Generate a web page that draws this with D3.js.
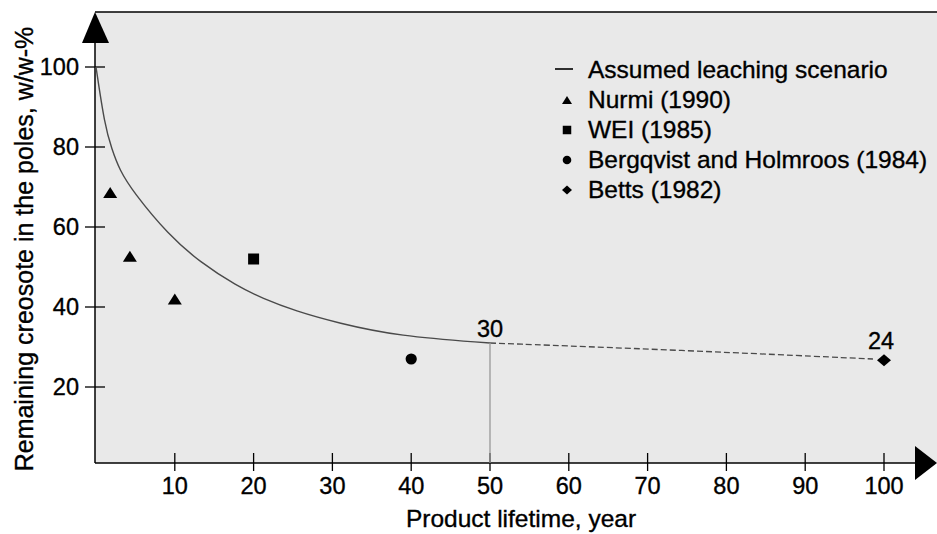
<!DOCTYPE html>
<html>
<head>
<meta charset="utf-8">
<script src="https://cdn.jsdelivr.net/npm/d3@7"></script>
<style>
  body { margin: 0; background: #fff; }
  svg { display: block; font-family: "Liberation Sans", Arial, sans-serif; }
  svg text { fill: #000; stroke: #000; stroke-width: 0.35px; }
</style>
</head>
<body>
<div id="chart"></div>
<script>
// leaching curve (solid up to 50 years, dashed after)
var curveYears = [0, 1.1, 2, 3, 4.7, 9.2, 13.2, 17.9, 21.1, 25.3, 30.7, 38.3, 50];
var curveValues = [100, 85.5, 79.5, 74.2, 68.8, 58, 51.2, 45.2, 42.2, 39, 36, 32.7, 31];
var dashYears = [50, 74.3, 98.6];
var dashValues = [31, 29.2, 27];

// measured points
var nurmiYears = [1.8, 4.3, 10];
var nurmiValues = [68.6, 52.7, 42];
var weiYears = [20];
var weiValues = [52];
var bergYears = [40];
var bergValues = [27];
var bettsYears = [100];
var bettsValues = [26.7];

var xTicks = [10, 20, 30, 40, 50, 60, 70, 80, 90, 100];
var yTicks = [20, 40, 60, 80, 100];

var legendLabels = ["Assumed leaching scenario", "Nurmi (1990)", "WEI (1985)",
                    "Bergqvist and Holmroos (1984)", "Betts (1982)"];

var W = 937, H = 534;

var x = d3.scaleLinear().domain([0, 100]).range([96, 884]);
var y = d3.scaleLinear().domain([0, 100]).range([467, 67]);

var plotLeft = 95, plotTop = 12, axisY = y(1);

var svg = d3.select("#chart").append("svg")
    .attr("width", W)
    .attr("height", H);

// plot background
svg.append("rect")
    .attr("x", plotLeft).attr("y", plotTop)
    .attr("width", W - plotLeft).attr("height", axisY - plotTop)
    .attr("fill", "#e9e9e9");

svg.append("line")
    .attr("x1", plotLeft).attr("x2", W)
    .attr("y1", plotTop).attr("y2", plotTop)
    .attr("stroke", "#000").attr("stroke-width", 1.5);

// axes lines + arrows
svg.append("line")
    .attr("x1", plotLeft).attr("x2", plotLeft)
    .attr("y1", plotTop + 20).attr("y2", axisY)
    .attr("stroke", "#000").attr("stroke-width", 1.5);
svg.append("line")
    .attr("x1", plotLeft).attr("x2", W - 22)
    .attr("y1", axisY).attr("y2", axisY)
    .attr("stroke", "#000").attr("stroke-width", 1.5);

svg.append("path")
    .attr("d", "M" + plotLeft + "," + plotTop + " L" + (plotLeft + 14) + "," + (plotTop + 31) + " L" + (plotLeft - 13) + "," + (plotTop + 31) + "Z")
    .attr("fill", "#000");
svg.append("path")
    .attr("d", "M" + W + "," + axisY + " L" + (W - 22) + "," + (axisY - 17) + " L" + (W - 22) + "," + (axisY + 17) + "Z")
    .attr("fill", "#000");

// x ticks
var xt = svg.append("g").attr("class", "x-ticks");
xt.selectAll("line").data(xTicks).enter().append("line")
    .attr("x1", function (d) { return x(d); })
    .attr("x2", function (d) { return x(d); })
    .attr("y1", axisY - 10).attr("y2", axisY + 8)
    .attr("stroke", "#000").attr("stroke-width", 1.3);
xt.selectAll("text").data(xTicks).enter().append("text")
    .attr("x", function (d) { return x(d); })
    .attr("y", 494)
    .attr("text-anchor", "middle")
    .style("font-size", "23.5px")
    .text(function (d) { return d; });

// y ticks
var yt = svg.append("g").attr("class", "y-ticks");
yt.selectAll("line").data(yTicks).enter().append("line")
    .attr("x1", plotLeft - 10).attr("x2", plotLeft + 10)
    .attr("y1", function (d) { return y(d); })
    .attr("y2", function (d) { return y(d); })
    .attr("stroke", "#000").attr("stroke-width", 1.3);
yt.selectAll("text").data(yTicks).enter().append("text")
    .attr("x", 79)
    .attr("y", function (d) { return y(d) + 8; })
    .attr("text-anchor", "end")
    .style("font-size", "23.5px")
    .text(function (d) { return d; });

// axis titles
svg.append("text")
    .attr("x", 521).attr("y", 527)
    .attr("text-anchor", "middle")
    .style("font-size", "24.5px")
    .text("Product lifetime, year");

svg.append("text")
    .attr("transform", "translate(33,249) rotate(-90)")
    .attr("text-anchor", "middle")
    .style("font-size", "25px")
    .text("Remaining creosote in the poles,  w/w-%");

// curve
var line = d3.line()
    .x(function (d) { return x(d[0]); })
    .y(function (d) { return y(d[1]); })
    .curve(d3.curveBasis);

svg.append("path")
    .datum(d3.zip(curveYears, curveValues))
    .attr("d", line)
    .attr("fill", "none")
    .attr("stroke", "#4a4a4a")
    .attr("stroke-width", 1.4);

svg.append("path")
    .datum(d3.zip(dashYears, dashValues))
    .attr("d", line)
    .attr("fill", "none")
    .attr("stroke", "#4a4a4a")
    .attr("stroke-width", 1.3)
    .attr("stroke-dasharray", "6,3");

// drop line at 50 years
svg.append("line")
    .attr("x1", x(50)).attr("x2", x(50))
    .attr("y1", y(curveValues[curveValues.length - 1])).attr("y2", axisY)
    .attr("stroke", "#999").attr("stroke-width", 1.3);

svg.append("text")
    .attr("x", x(50)).attr("y", y(31) - 6)
    .attr("text-anchor", "middle")
    .style("font-size", "23.5px")
    .text("30");
svg.append("text")
    .attr("x", x(100) - 3).attr("y", y(26.7) - 11)
    .attr("text-anchor", "middle")
    .style("font-size", "23.5px")
    .text("24");

// custom marker shapes (wider than tall, like the original)
function triangle(w, h) {
    return "M0," + (-h / 2) + "L" + (w / 2) + "," + (h / 2) + "L" + (-w / 2) + "," + (h / 2) + "Z";
}
function diamond(w, h) {
    return "M0," + (-h / 2) + "L" + (w / 2) + ",0L0," + (h / 2) + "L" + (-w / 2) + ",0Z";
}
function square(s) {
    return "M" + (-s / 2) + "," + (-s / 2) + "h" + s + "v" + s + "h" + (-s) + "Z";
}
function circle(r) {
    return d3.symbol().type(d3.symbolCircle).size(Math.PI * r * r)();
}

function drawPoints(xs, ys, shape) {
    svg.append("g").selectAll("path")
        .data(d3.zip(xs, ys))
        .enter().append("path")
        .attr("transform", function (d) { return "translate(" + x(d[0]) + "," + y(d[1]) + ")"; })
        .attr("d", shape)
        .attr("fill", "#000");
}
drawPoints(nurmiYears, nurmiValues, triangle(14, 11));
drawPoints(weiYears, weiValues, square(11));
drawPoints(bergYears, bergValues, circle(5.6));
drawPoints(bettsYears, bettsValues, diamond(14, 12));

// legend
var lg = svg.append("g").attr("class", "legend");
var legendShapes = [null, triangle(10, 8), square(8.5), circle(4.3), diamond(10, 9)];

legendLabels.forEach(function (lab, i) {
    var by = 78 + i * 30;
    if (i === 0) {
        lg.append("line")
            .attr("x1", 555).attr("x2", 573)
            .attr("y1", by - 9).attr("y2", by - 9)
            .attr("stroke", "#000").attr("stroke-width", 1.6);
    } else {
        lg.append("path")
            .attr("transform", "translate(567," + (by - 8) + ")")
            .attr("d", legendShapes[i])
            .attr("fill", "#000");
    }
    lg.append("text")
        .attr("x", 588).attr("y", by)
        .style("font-size", "24.5px")
        .text(lab);
});
</script>
</body>
</html>
